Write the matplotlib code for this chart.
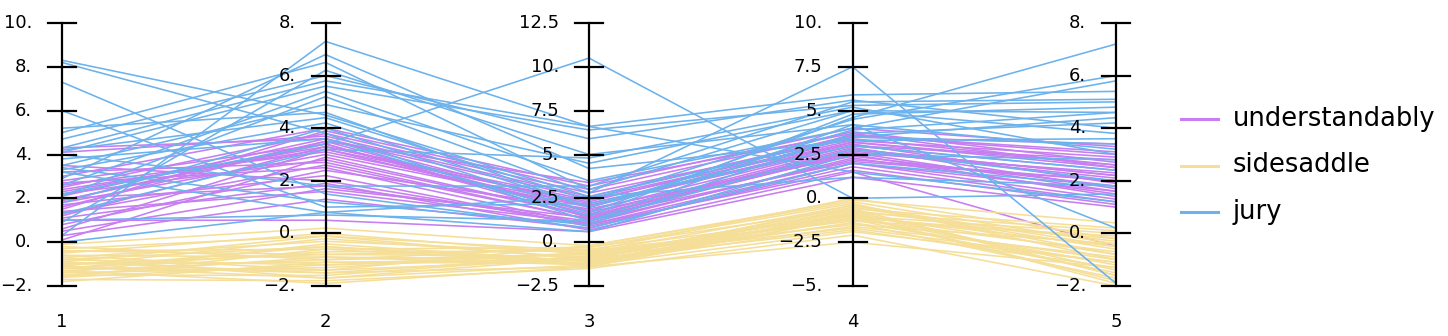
import numpy as np
import matplotlib
matplotlib.use("Agg")
import matplotlib.pyplot as plt
from matplotlib.lines import Line2D

# per-dimension ranges and tick values
dims = [1, 2, 3, 4, 5]
ranges = [(-2, 10), (-2, 8), (-2.5, 12.5), (-5, 10), (-2, 8)]
ticks = [
    [-2, 0, 2, 4, 6, 8, 10],
    [-2, 0, 2, 4, 6, 8],
    [-2.5, 0, 2.5, 5, 7.5, 10, 12.5],
    [-5, -2.5, 0, 2.5, 5, 7.5, 10],
    [-2, 0, 2, 4, 6, 8],
]
tick_labels = [
    ["\u22122.", "0.", "2.", "4.", "6.", "8.", "10."],
    ["\u22122.", "0.", "2.", "4.", "6.", "8."],
    ["\u22122.5", "0.", "2.5", "5.", "7.5", "10.", "12.5"],
    ["\u22125.", "\u22122.5", "0.", "2.5", "5.", "7.5", "10."],
    ["\u22122.", "0.", "2.", "4.", "6.", "8."],
]

series_names = ["understandably", "sidesaddle", "jury"]
colors = ["#c77ef0", "#f5df98", "#6cb2ec"]

understandably = [
    [4.3, 3.6, 2.0, 3.2, 2.5], [4.1, 3.7, 2.6, 3.6, 3.0], [3.0, 4.0, 3.2, 4.0, 3.3],
    [2.8, 3.4, 1.4, 2.8, 2.2], [2.7, 2.5, 1.0, 2.0, 1.6], [2.5, 3.8, 2.8, 3.4, 2.6],
    [2.4, 3.2, 1.8, 3.0, 2.4], [2.3, 3.3, 2.2, 3.1, 1.9], [2.2, 2.8, 1.5, 2.5, 1.4],
    [2.1, 3.6, 2.5, 3.3, 2.9], [2.0, 1.8, 1.2, 2.2, 2.0], [1.9, 3.4, 1.6, 2.9, 1.7],
    [1.8, 3.0, 2.0, 3.5, 3.4], [1.7, 2.2, 0.9, 1.8, 1.2], [1.6, 3.5, 1.7, 2.6, 2.3],
    [1.5, 3.9, 3.0, 3.8, 2.7], [1.4, 1.6, 1.1, 2.3, 1.5], [1.3, 2.6, 1.3, 2.7, 2.1],
    [1.2, 3.3, 2.4, 3.2, 2.6], [1.1, 1.9, 0.7, 1.5, -0.5], [1.0, 0.5, 0.6, 1.2, 1.0],
    [0.8, 2.4, 1.9, 2.4, 1.8], [0.6, 3.2, 2.3, 3.6, 3.1], [0.3, 1.3, 0.8, 2.0, 1.3],
    [0.1, 2.9, 1.5, 2.8, 2.2], [3.5, 2.0, 1.0, 1.6, 1.1], [2.6, 3.1, 2.1, 3.0, 2.8],
    [1.9, 3.5, 3.4, 3.7, 2.5], [3.2, 2.7, 1.3, 2.6, 1.6], [0.5, 1.7, 1.4, 2.1, 2.0],
]

sidesaddle = [
    [-0.1, 0.2, -0.2, -0.1, 0.4], [-0.3, -0.1, -0.5, 0.0, -0.2], [-0.4, -0.6, -0.3, -0.6, 0.2],
    [-0.5, 0.0, -0.7, -0.9, -0.8], [-0.6, -0.9, -1.0, -0.4, -0.5], [-0.7, -0.3, -0.6, -1.2, -1.5],
    [-0.8, -1.2, -0.9, -0.8, 0.1], [-0.8, -0.5, -1.1, -1.4, -1.0], [-0.9, -1.5, -0.8, -0.7, -0.3],
    [-1.0, -0.8, -0.4, -1.0, -1.8], [-1.0, -1.1, -1.2, -1.6, -0.9], [-1.1, -0.2, -0.9, -0.5, -0.6],
    [-1.1, -1.7, -1.3, -1.1, -1.2], [-1.2, -0.7, -0.5, -1.3, -0.1], [-1.2, -1.4, -1.0, -0.6, -1.6],
    [-1.3, -1.0, -0.7, -1.5, -0.4], [-1.3, -1.9, -1.4, -2.5, -1.3], [-1.4, -0.4, -1.1, -0.9, -1.9],
    [-1.4, -1.3, -0.6, -1.2, -0.7], [-1.5, -0.9, -1.3, -0.8, -1.4], [-1.5, -1.6, -0.8, -1.7, -1.1],
    [-1.6, -0.6, -1.2, -1.0, 0.0], [-1.7, -1.8, -1.5, -2.1, -2.0], [-1.8, -1.1, -1.0, -1.4, -1.7],
    [-0.2, -1.0, -0.3, -0.3, -1.0], [-0.6, -1.4, -0.2, -0.2, -0.4], [-0.9, -0.1, -1.0, -1.8, -1.3],
    [-1.1, -1.5, -1.4, -1.1, -0.2], [-0.4, -0.8, -0.8, -0.7, -1.6], [-1.6, -1.2, -0.6, -0.4, -0.8],
    [-1.2, -0.5, -1.3, -1.9, -1.1], [-0.7, -1.7, -0.9, -1.0, -0.5],
]

jury = [
    [8.3, 4.5, 2.6, 3.5, 4.4], [8.2, 3.8, 1.2, 4.2, 3.2], [7.3, 1.5, 0.8, 2.0, 1.8],
    [6.0, 1.0, 2.2, 3.0, 2.4], [5.0, 6.5, 3.0, 5.0, 4.6], [4.7, 6.0, 5.9, 5.6, 4.0],
    [4.3, 5.8, 6.6, 5.9, 5.4], [4.2, 4.4, 2.4, 4.5, 6.0], [4.1, 5.6, 6.4, 5.3, 5.0],
    [3.8, 3.6, 1.5, 4.8, 4.8], [3.5, 4.9, 4.5, 5.0, 3.8], [3.4, 1.2, 1.0, 3.7, 4.2],
    [3.3, 4.2, 2.0, 3.5, 3.4], [3.2, 0.8, 0.6, 2.5, 2.8], [2.6, 5.4, 3.5, 4.0, 5.8],
    [2.2, 3.4, 10.5, 0.0, 1.5], [2.1, 5.2, 2.8, 7.5, -1.9], [1.8, 4.0, 1.7, 4.6, 7.2],
    [1.3, 3.2, 4.8, 5.2, 3.0], [1.0, 0.7, 1.2, 2.8, 2.0], [0.9, 6.2, 5.0, 4.2, 0.2],
    [0.3, 7.3, 6.6, 1.5, 1.2], [0.0, 0.8, 2.6, 1.2, 1.8], [4.0, 1.8, 3.2, 5.5, 5.1],
    [2.9, 6.8, 4.2, 3.3, 3.6], [5.2, 4.6, 2.0, 3.9, 4.6],
]

W, H = 1448, 336
fig = plt.figure(figsize=(W / 100, H / 100), dpi=100)
# axes spans from the first to the last coordinate axis, top to bottom of the scales
x0, x1, ytop, ybot = 62, 1116, 23, 286
ax = fig.add_axes([x0 / W, 1 - ybot / H, (x1 - x0) / W, (ybot - ytop) / H])
ax.set_xlim(1, 5)
ax.set_ylim(0, 1)
ax.axis("off")


def norm(vals):
    vals = np.asarray(vals, dtype=float)
    lo = np.array([r[0] for r in ranges])
    hi = np.array([r[1] for r in ranges])
    return (vals - lo) / (hi - lo)


for rows, c in zip([understandably, sidesaddle, jury], colors):
    for row in rows:
        ax.plot(dims, norm(row), color=c, lw=1.15, clip_on=False, zorder=2)

px = (5 - 1) / (x1 - x0)  # data units per pixel in x
for d, (lo, hi), tv, tl in zip(dims, ranges, ticks, tick_labels):
    ax.plot([d, d], [0, 1], color="black", lw=1.6, clip_on=False, zorder=3)
    for v, lab in zip(tv, tl):
        y = (v - lo) / (hi - lo)
        ax.plot([d - 14 * px, d + 14 * px], [y, y], color="black", lw=1.6,
                clip_on=False, zorder=3)
        ax.text(d - 30 * px, y, lab, ha="right", va="center", fontsize=13)
    ax.text(d, -36 / (ybot - ytop), str(d), ha="center", va="center", fontsize=13)

# legend entries
for i, (name, c) in enumerate(zip(series_names, colors)):
    yy = 1 - (119 + i * 46.5) / H
    fig.add_artist(Line2D([1181 / W, 1218 / W], [yy, yy], color=c, lw=2.2))
    fig.text(1233 / W, yy, name, ha="left", va="center", fontsize=18.5)

fig.savefig("out.png", dpi=100)
